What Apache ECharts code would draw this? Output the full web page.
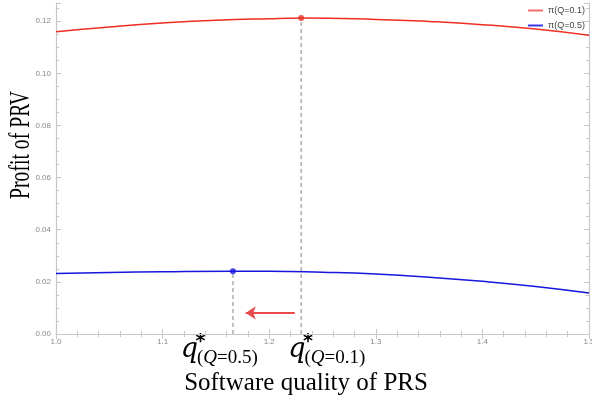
<!DOCTYPE html>
<html>
<head>
<meta charset="utf-8">
<script src="https://cdn.jsdelivr.net/npm/echarts@6/dist/echarts.min.js"></script>
<style>
  html, body { margin: 0; padding: 0; background: #fff; }
  #chart { width: 592px; height: 395px; }
</style>
</head>
<body>
<div id="chart"></div>
<script>
// software quality q (x) and profit values
const qLow = [1.0, 1.05, 1.1, 1.15, 1.2, 1.23, 1.3, 1.35, 1.4, 1.45, 1.5];
const profitLow = [0.1160, 0.1178, 0.1193, 0.1204, 0.1210, 0.1212, 0.1207, 0.1199, 0.1187, 0.1170, 0.1146];
const qHigh = [1.0, 1.05, 1.1, 1.166, 1.2, 1.25, 1.3, 1.35, 1.4, 1.45, 1.5];
const profitHigh = [0.0232, 0.0236, 0.0239, 0.0241, 0.0241, 0.0237, 0.0230, 0.0218, 0.0202, 0.0182, 0.0157];

const optLow = [1.23, 0.1212];   // q*(Q=0.1)
const optHigh = [1.166, 0.0241]; // q*(Q=0.5)
const arrowFrom = [1.224, 0.0081];
const arrowTo = [1.178, 0.0081];

const names = ['\u03c0(Q=0.1)', '\u03c0(Q=0.5)'];
const red = '#ee2e22';
const blue = '#1616dc';
const frame = '#c8c8c8';

const zip = (xs, ys) => xs.map((x, i) => [x, ys[i]]);

const chart = echarts.init(document.getElementById('chart'));

const baseAxis = {
  axisLine: { show: true, lineStyle: { color: frame, width: 1.2 } },
  axisTick: { show: true, inside: true, length: 5, lineStyle: { color: frame } },
  minorTick: { show: true, length: 3, lineStyle: { color: frame } },
  splitLine: { show: false },
};

const subRich = {
  n: { fontSize: 19, fontFamily: 'Liberation Serif', fill: '#000' },
  i: { fontSize: 19, fontFamily: 'Liberation Serif', fontStyle: 'italic', fill: '#000' },
};

// q* with subscript, drawn as three text pieces (qx = centre of the q)
function optLabel(qx, sub) {
  return [
    { type: 'text', x: qx, y: 350, style: { text: 'q', fontSize: 27, fontStyle: 'italic', fontFamily: 'DejaVu Serif',
      fill: '#000', align: 'center', verticalAlign: 'middle' } },
    { type: 'text', x: qx + 11, y: 342, style: { text: '*', fontSize: 19, fontWeight: 'bold', fontFamily: 'DejaVu Sans',
      fill: '#000', align: 'center', verticalAlign: 'middle' } },
    { type: 'text', x: qx + 7.5, y: 358, style: { text: '{n|(}{i|Q}{n|=' + sub + ')}', rich: subRich,
      align: 'left', verticalAlign: 'middle' } },
  ];
}

const option = {
  animation: false,
  backgroundColor: '#fff',
  grid: { left: 56, right: 3, top: 3, bottom: 61, outerBoundsMode: 'none', containLabel: false },
  legend: {
    data: [
      { name: names[0], itemStyle: { color: '#f07068' } },
      { name: names[1], itemStyle: { color: '#3838e8' } },
    ],
    orient: 'vertical',
    right: 2,
    top: 1,
    icon: 'rect',
    itemWidth: 15,
    itemHeight: 2,
    itemGap: 6,
    textStyle: { fontSize: 9, color: '#444', fontFamily: 'Liberation Sans' },
  },
  xAxis: [
    Object.assign({}, baseAxis, {
      type: 'value', min: 1.0, max: 1.5, interval: 0.1,
      minorTick: Object.assign({}, baseAxis.minorTick, { splitNumber: 5 }),
      axisLabel: { color: '#888', fontSize: 8, margin: 4, fontFamily: 'Liberation Sans',
        formatter: v => v.toFixed(1) },
    }),
    Object.assign({}, baseAxis, {
      type: 'value', position: 'top', min: 1.0, max: 1.5, interval: 0.1,
      minorTick: Object.assign({}, baseAxis.minorTick, { splitNumber: 5 }),
      axisLabel: { show: false },
    }),
  ],
  yAxis: [
    Object.assign({}, baseAxis, {
      type: 'value', min: 0, max: 0.127, interval: 0.02,
      minorTick: Object.assign({}, baseAxis.minorTick, { splitNumber: 4 }),
      axisLabel: { color: '#888', fontSize: 8, margin: 5, showMaxLabel: false,
        fontFamily: 'Liberation Sans', formatter: v => v.toFixed(2) },
    }),
    Object.assign({}, baseAxis, {
      type: 'value', position: 'right', min: 0, max: 0.127, interval: 0.02,
      minorTick: Object.assign({}, baseAxis.minorTick, { splitNumber: 4 }),
      axisLabel: { show: false },
    }),
  ],
  series: [
    {
      name: names[0], type: 'line', smooth: true, showSymbol: false,
      data: zip(qLow, profitLow),
      lineStyle: { color: red, width: 1.5 }, itemStyle: { color: red },
    },
    {
      name: names[1], type: 'line', smooth: true, showSymbol: false,
      data: zip(qHigh, profitHigh),
      lineStyle: { color: blue, width: 1.5 }, itemStyle: { color: blue },
    },
    {
      type: 'line', data: [[optLow[0], 0], optLow], showSymbol: false,
      lineStyle: { color: '#9a9a9a', type: [4, 3], width: 1.2 },
    },
    {
      type: 'line', data: [[optHigh[0], 0], optHigh], showSymbol: false,
      lineStyle: { color: '#9a9a9a', type: [4, 3], width: 1.2 },
    },
    {
      type: 'lines', coordinateSystem: 'cartesian2d', z: 4,
      symbol: ['none', 'arrow'], symbolSize: 10,
      lineStyle: { color: '#e84a4a', width: 2, opacity: 1 },
      data: [{ coords: [arrowFrom, arrowTo] }],
    },
    {
      type: 'scatter', symbolSize: 6, z: 5,
      data: [
        { value: optLow, itemStyle: { color: red } },
        { value: optHigh, itemStyle: { color: blue } },
      ],
    },
  ],
  graphic: [
    {
      type: 'text', x: 21, y: 145, rotation: Math.PI / 2, scaleX: 0.68,
      style: { text: 'Profit of PRV', fontSize: 29, fontFamily: 'Liberation Serif', fill: '#000',
        align: 'center', verticalAlign: 'middle' },
    },
    {
      type: 'text', x: 306, y: 371,
      style: { text: 'Software quality of PRS', fontSize: 25, fontFamily: 'Liberation Serif', fill: '#000',
        align: 'center', verticalAlign: 'top' },
    },
  ].concat(optLabel(189.5, '0.5'), optLabel(297, '0.1')),
};

chart.setOption(option);
</script>
</body>
</html>
